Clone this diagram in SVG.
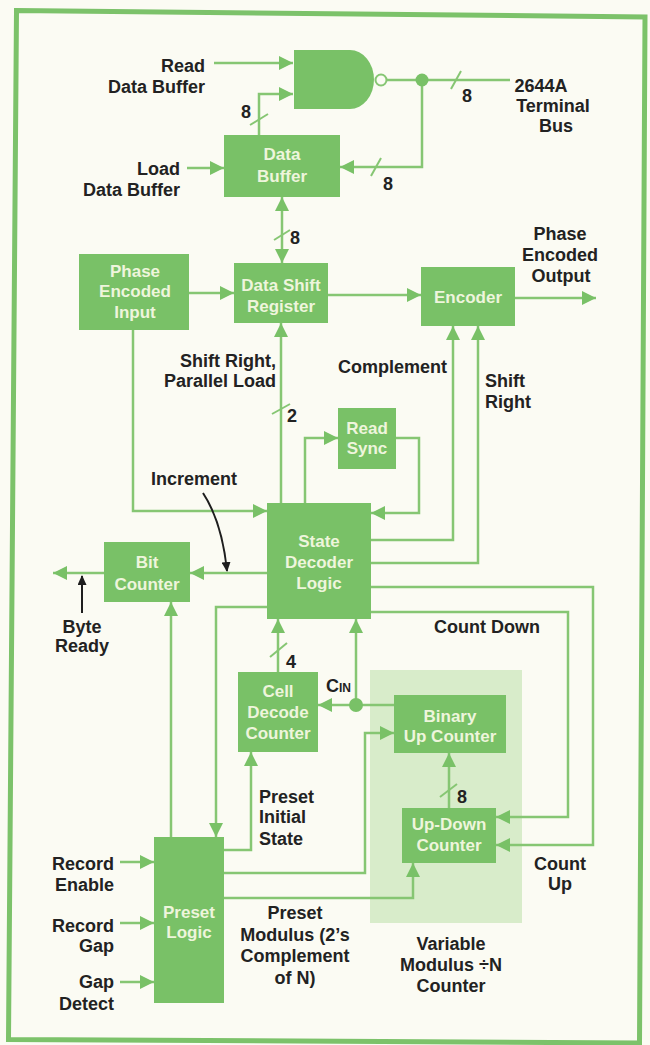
<svg xmlns="http://www.w3.org/2000/svg" width="650" height="1045" viewBox="0 0 650 1045">
<style>
.bg{fill:#fbfbf3}
.frame{fill:none;stroke:#7cc26a;stroke-width:5}
.box{fill:#79c167}
.shade{fill:#d8ecca}
.bt{font-family:"Liberation Sans",Arial,sans-serif;font-weight:bold;font-size:17px;fill:#eef5dc;text-anchor:middle}
.t{font-family:"Liberation Sans",Arial,sans-serif;font-weight:bold;font-size:18px;fill:#222}
.m{text-anchor:middle}
.e{text-anchor:end}
.w{fill:none;stroke:#86c673;stroke-width:2.5}
.a{marker-end:url(#ah)}
.s{stroke:#86c673;stroke-width:2}
.p{fill:none;stroke:#1e1e1e;stroke-width:2;marker-end:url(#bh)}
</style>
<defs>
<marker id="ah" markerUnits="userSpaceOnUse" markerWidth="14" markerHeight="14" refX="14" refY="7" orient="auto-start-reverse" viewBox="0 0 14 14">
<path d="M0,0 L14,7 L0,14 Z" fill="#79c167"/>
</marker>
<marker id="bh" markerUnits="userSpaceOnUse" markerWidth="10" markerHeight="9" refX="9" refY="4.5" orient="auto" viewBox="0 0 10 9">
<path d="M0,0 L10,4.5 L0,9 Z" fill="#1e1e1e"/>
</marker>
</defs>
<rect class="bg" x="0" y="0" width="650" height="1045"/>
<polygon class="frame" points="16.5,10.5 645,17 639.5,1043 8.5,1039.5"/>

<g id="var-modulus">
<rect class="shade" x="370" y="670" width="152" height="253"/>
<text class="t m" x="451" y="950">Variable</text>
<text class="t m" x="451" y="971">Modulus ÷N</text>
<text class="t m" x="451" y="992">Counter</text>
</g>

<g id="connectors">
<path class="w a" d="M214,63 H293"/>
<path class="w a" d="M259,135 V94 H293"/>
<path class="w" d="M387,80 H510"/>
<path class="w a" d="M422,80 V167 H340"/>
<path class="w a" d="M187,168 H224"/>
<path class="w a" d="M282,197 V263" style="marker-start:url(#ah)"/>
<path class="w a" d="M189,293 H234"/>
<path class="w a" d="M328,295 H421"/>
<path class="w a" d="M515,298 H596"/>
<path class="w a" d="M281,503 V323"/>
<path class="w a" d="M305,503 V438 H338"/>
<path class="w a" d="M396,438 H419 V513 H371"/>
<path class="w a" d="M133,330 V511 H267"/>
<path class="w a" d="M371,540 H453 V326"/>
<path class="w a" d="M371,563 H478 V326"/>
<path class="w a" d="M371,587 H593 V845 H496"/>
<path class="w a" d="M371,612 H568 V817 H496"/>
<path class="w a" d="M267,573 H190"/>
<path class="w a" d="M104,573 H53"/>
<path class="w a" d="M267,607 H216 V837"/>
<path class="w a" d="M171,837 V602"/>
<path class="w a" d="M278,672 V619"/>
<path class="w a" d="M356,705 V619"/>
<path class="w a" d="M394,705 H318"/>
<path class="w a" d="M224,850 H251 V752"/>
<path class="w a" d="M224,873 H365 V733 H394"/>
<path class="w a" d="M224,898 H413 V863"/>
<path class="w a" d="M449,808 V753"/>
<path class="w a" d="M120,862 H154"/>
<path class="w a" d="M120,923 H154"/>
<path class="w a" d="M120,982 H154"/>
<circle cx="422" cy="80" r="6.5" fill="#79c167"/>
<circle cx="356" cy="705" r="7" fill="#79c167"/>
<line class="s" x1="250" y1="125" x2="268" y2="114"/>
<line class="s" x1="451" y1="89" x2="461" y2="71"/>
<line class="s" x1="371" y1="176" x2="381" y2="158"/>
<line class="s" x1="274" y1="240" x2="290" y2="230"/>
<line class="s" x1="272" y1="414" x2="290" y2="404"/>
<line class="s" x1="270" y1="657" x2="287" y2="643"/>
<line class="s" x1="440" y1="797" x2="457" y2="784"/>
<text class="t m" x="246" y="118">8</text>
<text class="t m" x="467" y="102">8</text>
<text class="t m" x="388" y="190">8</text>
<text class="t m" x="295" y="244">8</text>
<text class="t m" x="292" y="422">2</text>
<text class="t m" x="291" y="668">4</text>
<text class="t m" x="462" y="803">8</text>
<path class="p" d="M203,493 Q222,522 227,571"/>
<path class="p" d="M82,613 V576"/>
</g>

<g id="nand-gate">
<path d="M294,50 H350 A24,29.5 0 0 1 350,109 H294 Z" fill="#79c167"/>
<circle cx="381" cy="80" r="5.5" fill="#fbfbf3" stroke="#86c673" stroke-width="2"/>
</g>

<g id="data-buffer">
<rect class="box" x="224" y="135" width="116" height="62"/>
<text class="bt" x="282" y="160">Data</text>
<text class="bt" x="282" y="182">Buffer</text>
</g>

<g id="phase-encoded-input">
<rect class="box" x="79" y="254" width="110" height="76"/>
<text class="bt" x="135" y="277">Phase</text>
<text class="bt" x="135" y="297">Encoded</text>
<text class="bt" x="135" y="318">Input</text>
</g>

<g id="data-shift-register">
<rect class="box" x="234" y="263" width="94" height="60"/>
<text class="bt" x="281" y="291">Data Shift</text>
<text class="bt" x="281" y="312">Register</text>
</g>

<g id="encoder">
<rect class="box" x="421" y="267" width="94" height="59"/>
<text class="bt" x="468" y="303">Encoder</text>
</g>

<g id="read-sync">
<rect class="box" x="338" y="408" width="58" height="61"/>
<text class="bt" x="367" y="434">Read</text>
<text class="bt" x="367" y="454">Sync</text>
</g>

<g id="state-decoder-logic">
<rect class="box" x="267" y="503" width="104" height="116"/>
<text class="bt" x="319" y="547">State</text>
<text class="bt" x="319" y="568">Decoder</text>
<text class="bt" x="319" y="589">Logic</text>
</g>

<g id="bit-counter">
<rect class="box" x="104" y="542" width="86" height="60"/>
<text class="bt" x="147" y="568">Bit</text>
<text class="bt" x="147" y="590">Counter</text>
</g>

<g id="cell-decode-counter">
<rect class="box" x="238" y="672" width="80" height="80"/>
<text class="bt" x="278" y="697">Cell</text>
<text class="bt" x="278" y="718">Decode</text>
<text class="bt" x="278" y="739">Counter</text>
</g>

<g id="binary-up-counter">
<rect class="box" x="394" y="695" width="112" height="58"/>
<text class="bt" x="450" y="722">Binary</text>
<text class="bt" x="450" y="742">Up Counter</text>
</g>

<g id="up-down-counter">
<rect class="box" x="402" y="808" width="94" height="55"/>
<text class="bt" x="449" y="830">Up-Down</text>
<text class="bt" x="449" y="851">Counter</text>
</g>

<g id="preset-logic">
<rect class="box" x="154" y="837" width="70" height="166"/>
<text class="bt" x="189" y="918">Preset</text>
<text class="bt" x="189" y="938">Logic</text>
</g>

<g id="labels">
<text class="t e" x="205" y="72">Read</text>
<text class="t e" x="205" y="93">Data Buffer</text>
<text class="t e" x="180" y="175">Load</text>
<text class="t e" x="180" y="196">Data Buffer</text>
<text class="t m" x="541" y="92">2644A</text>
<text class="t m" x="553" y="112">Terminal</text>
<text class="t m" x="556" y="132">Bus</text>
<text class="t m" x="560" y="240">Phase</text>
<text class="t m" x="560" y="261">Encoded</text>
<text class="t m" x="561" y="282">Output</text>
<text class="t e" x="276" y="367">Shift Right,</text>
<text class="t e" x="276" y="387">Parallel Load</text>
<text class="t" x="338" y="373">Complement</text>
<text class="t" x="485" y="387">Shift</text>
<text class="t" x="485" y="408">Right</text>
<text class="t m" x="194" y="485">Increment</text>
<text class="t m" x="82" y="633">Byte</text>
<text class="t m" x="82" y="652">Ready</text>
<text class="t" x="434" y="633">Count Down</text>
<text class="t" x="326" y="692">C<tspan font-size="12">IN</tspan></text>
<text class="t" x="259" y="803">Preset</text>
<text class="t" x="259" y="823">Initial</text>
<text class="t" x="259" y="845">State</text>
<text class="t m" x="560" y="870">Count</text>
<text class="t m" x="560" y="890">Up</text>
<text class="t e" x="114" y="870">Record</text>
<text class="t e" x="114" y="891">Enable</text>
<text class="t e" x="114" y="932">Record</text>
<text class="t e" x="114" y="952">Gap</text>
<text class="t e" x="114" y="988">Gap</text>
<text class="t e" x="114" y="1010">Detect</text>
<text class="t m" x="295" y="919">Preset</text>
<text class="t m" x="295" y="941">Modulus (2’s</text>
<text class="t m" x="295" y="962">Complement</text>
<text class="t m" x="295" y="984">of N)</text>
</g>
</svg>
